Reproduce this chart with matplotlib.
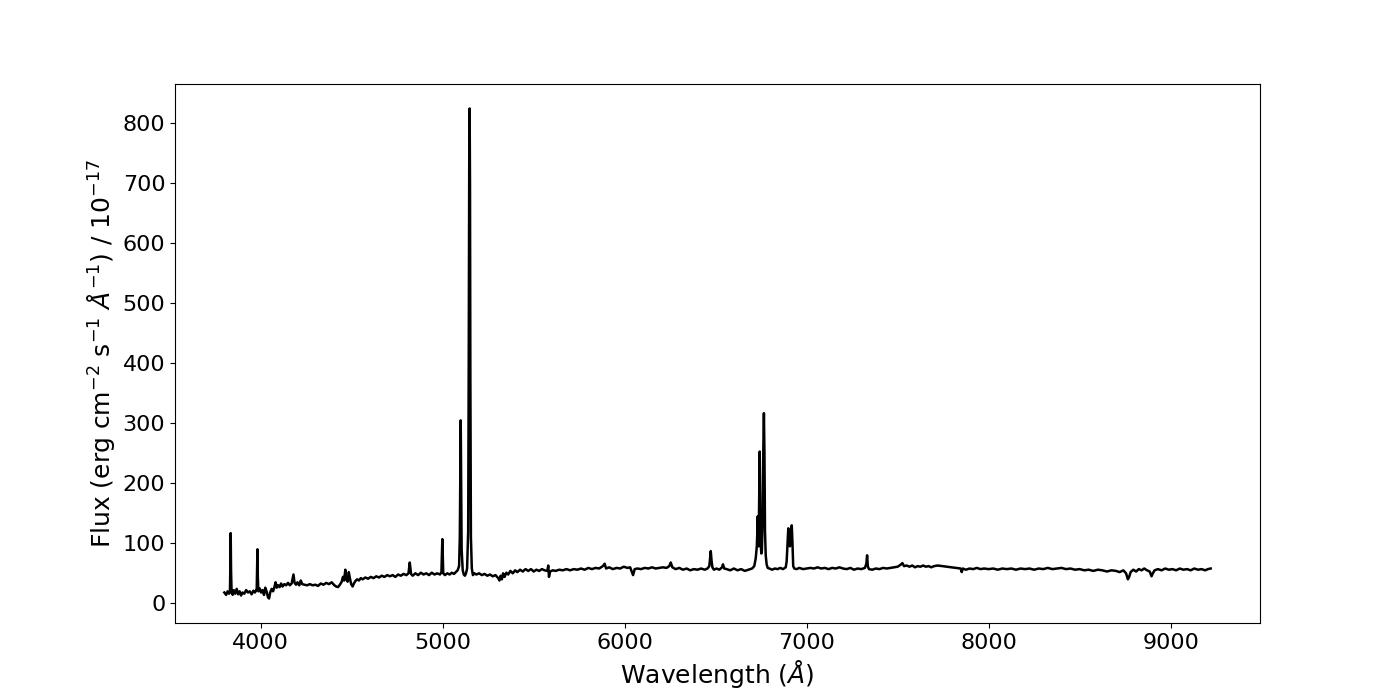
#!/usr/bin/env python3

import matplotlib
matplotlib.use('Agg')
import matplotlib.pyplot as plt

# ======================================================================
# Spectrum values.
# ======================================================================

wave = [
    3800, 3810, 3818, 3826, 3831, 3833, 3835, 3837, 3840, 3846,
    3852, 3860, 3868, 3876, 3884, 3892, 3900, 3910, 3920, 3930,
    3940, 3950, 3960, 3968, 3975, 3978, 3980, 3982, 3984, 3987,
    3994, 4002, 4010, 4018, 4025, 4032, 4040, 4046, 4052, 4060,
    4068, 4076, 4082, 4088, 4096, 4104, 4112, 4120, 4130, 4140,
    4150, 4160, 4170, 4180, 4186, 4194, 4202, 4212, 4220, 4228,
    4240, 4255, 4270, 4285, 4300, 4315, 4330, 4345, 4360, 4375,
    4390, 4405, 4415, 4425, 4435, 4445, 4452, 4458, 4465, 4470,
    4478, 4484, 4490, 4497, 4505, 4512, 4520, 4530, 4540, 4550,
    4560, 4575, 4590, 4605, 4620, 4635, 4650, 4665, 4680, 4695,
    4710, 4725, 4740, 4755, 4770, 4785, 4800, 4812, 4819, 4826,
    4835, 4850, 4865, 4880, 4895, 4910, 4925, 4940, 4955, 4970,
    4985, 4993, 4998, 5003, 5012, 5025, 5038, 5050, 5062, 5072,
    5082, 5090, 5094, 5097, 5099, 5101, 5104, 5110, 5116, 5122,
    5128, 5134, 5140, 5143, 5146, 5148, 5150, 5152, 5155, 5160,
    5166, 5174, 5185, 5200, 5215, 5230, 5245, 5260, 5275, 5290,
    5305, 5312, 5318, 5325, 5332, 5340, 5350, 5360, 5372, 5385,
    5398, 5410, 5425, 5440, 5455, 5470, 5485, 5500, 5515, 5530,
    5545, 5560, 5575, 5580, 5584, 5590, 5605, 5620, 5640, 5660,
    5680, 5700, 5720, 5740, 5760, 5780, 5800, 5820, 5840, 5860,
    5880, 5890, 5898, 5915, 5935, 5955, 5975, 5995, 6015, 6030,
    6040, 6046, 6055, 6070, 6090, 6110, 6130, 6150, 6170, 6190,
    6210, 6230, 6245, 6253, 6262, 6280, 6300, 6320, 6340, 6360,
    6380, 6400, 6420, 6440, 6455, 6465, 6470, 6473, 6477, 6482,
    6490, 6505, 6520, 6535, 6540, 6547, 6560, 6580, 6600, 6620,
    6640, 6660, 6680, 6700, 6712, 6720, 6726, 6729, 6731, 6733,
    6736, 6739, 6742, 6745, 6748, 6751, 6754, 6758, 6762, 6765,
    6768, 6771, 6775, 6780, 6786, 6795, 6810, 6825, 6840, 6855,
    6870, 6885, 6890, 6895, 6899, 6903, 6908, 6913, 6918, 6922,
    6926, 6932, 6945, 6960, 6980, 7000, 7020, 7040, 7060, 7080,
    7100, 7120, 7140, 7160, 7180, 7200, 7220, 7240, 7260, 7280,
    7300, 7320, 7328, 7332, 7336, 7342, 7360, 7380, 7400, 7420,
    7440, 7460, 7480, 7500, 7515, 7526, 7535, 7550, 7565, 7580,
    7595, 7610, 7625, 7640, 7655, 7670, 7685, 7700, 7720, 7846,
    7852, 7858, 7875, 7895, 7915, 7935, 7955, 7975, 8000, 8025,
    8050, 8075, 8100, 8125, 8150, 8175, 8200, 8225, 8250, 8275,
    8300, 8325, 8350, 8375, 8400, 8425, 8450, 8475, 8500, 8525,
    8550, 8575, 8600, 8625, 8650, 8675, 8700, 8720, 8740, 8755,
    8765, 8772, 8780, 8795, 8810, 8825, 8840, 8855, 8870, 8885,
    8895, 8902, 8912, 8930, 8950, 8970, 8990, 9010, 9030, 9050,
    9070, 9090, 9110, 9130, 9150, 9170, 9190, 9205, 9220,
    ]

flux = [
    18, 14, 20, 16, 20, 60, 117, 55, 18, 14,
    22, 16, 24, 15, 20, 13, 18, 16, 22, 18,
    20, 15, 21, 18, 22, 22, 55, 90, 45, 20,
    25, 18, 22, 14, 26, 20, 10, 8, 18, 24,
    20, 28, 35, 26, 30, 27, 33, 28, 32, 30,
    34, 30, 33, 48, 34, 31, 35, 30, 38, 32,
    31, 30, 32, 30, 31, 29, 33, 31, 34, 32,
    35, 30, 28, 27, 31, 36, 44, 38, 56, 40,
    36, 52, 42, 32, 28, 33, 37, 40, 38, 42,
    40, 43, 41, 44, 42, 45, 43, 46, 44, 47,
    45, 47, 44, 48, 46, 49, 47, 50, 68, 49,
    46, 50, 47, 51, 48, 50, 47, 51, 48, 50,
    48, 52, 107, 50, 47, 50, 48, 51, 49, 52,
    55, 62, 110, 230, 305, 220, 90, 55, 48, 46,
    50, 58, 120, 400, 760, 825, 700, 380, 110, 58,
    47, 50, 48, 50, 47, 49, 46, 48, 45, 47,
    42, 38, 46, 40, 50, 44, 51, 48, 54, 50,
    55, 52, 56, 53, 57, 54, 57, 53, 56, 54,
    57, 55, 54, 63, 44, 53, 55, 54, 56, 55,
    57, 55, 57, 56, 58, 56, 59, 57, 59, 58,
    62, 66, 58, 60, 57, 59, 58, 61, 59, 60,
    52, 47, 57, 58, 57, 59, 58, 60, 58, 59,
    60, 59, 62, 68, 60, 57, 59, 56, 58, 55,
    57, 56, 58, 56, 58, 62, 78, 87, 72, 60,
    56, 58, 56, 60, 65, 58, 57, 55, 58, 55,
    57, 54, 56, 58, 62, 75, 95, 120, 145, 105,
    95, 180, 253, 150, 95, 83, 88, 140, 260, 317,
    250, 120, 80, 65, 59, 58, 56, 58, 57, 59,
    57, 60, 70, 100, 125, 105, 95, 110, 130, 100,
    62, 58, 57, 59, 57, 58, 59, 58, 60, 58,
    59, 57, 59, 58, 60, 58, 57, 59, 56, 58,
    57, 59, 66, 80, 62, 57, 56, 58, 57, 59,
    58, 59, 60, 61, 64, 67, 62, 63, 61, 63,
    60, 62, 61, 63, 61, 62, 60, 62, 63, 58,
    52, 58, 56, 58, 57, 59, 57, 58, 57, 58,
    56, 58, 57, 58, 56, 58, 57, 58, 56, 58,
    57, 59, 57, 58, 59, 57, 58, 56, 57, 55,
    56, 54, 56, 55, 53, 55, 54, 52, 55, 50,
    40, 44, 52, 56, 53, 57, 55, 58, 55, 53,
    45, 50, 55, 57, 55, 58, 56, 57, 55, 58,
    56, 57, 55, 58, 56, 57, 55, 57, 58,
    ]

# ======================================================================
# Plot.
# ======================================================================

fig, ax = plt.subplots(figsize=(14, 7), dpi=100)
ax.plot(wave, flux, color='black', linewidth=1.8)
ax.set_xlabel(r'Wavelength ($\AA$)', fontsize=18)
ax.set_ylabel(r'Flux (erg cm$^{-2}$ s$^{-1}$ $\AA^{-1}$) / 10$^{-17}$',
    fontsize=18)
ax.tick_params(labelsize=16)
fig.savefig('out.png')
plt.close()
